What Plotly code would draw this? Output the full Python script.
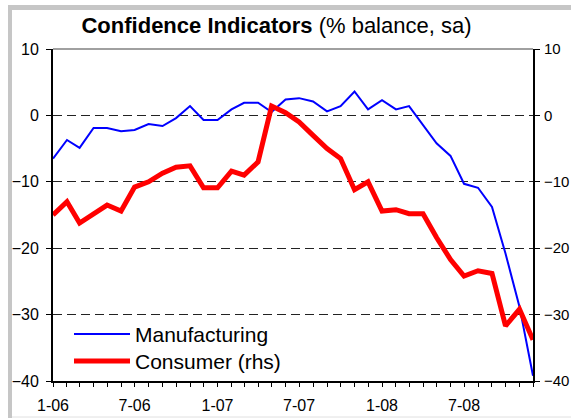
import pandas as pd
import plotly.graph_objects as go

# Monthly survey balances, Jan 2006 - Dec 2008 (% balance, seasonally adjusted)
months = pd.date_range("2006-01-01", periods=36, freq="MS")

manufacturing = [
    -6.5, -3.7, -4.9, -1.9, -1.9, -2.4, -2.2, -1.3, -1.6, -0.4, 1.4, -0.7,
    -0.7, 0.9, 1.9, 1.9, 0.5, 2.4, 2.6, 2.1, 0.6, 1.4, 3.6, 0.9,
    2.3, 0.9, 1.4, -1.5, -4.2, -6.1, -10.3, -10.9, -13.8, -20.8, -28.8, -39.2,
]
consumer = [
    -15.0, -13.0, -16.2, -14.8, -13.5, -14.4, -10.8, -10.0, -8.7, -7.8, -7.6, -10.9,
    -10.9, -8.4, -9.0, -7.0, 1.4, 0.4, -1.0, -3.0, -5.0, -6.5, -11.2, -10.0,
    -14.4, -14.2, -14.8, -14.8, -18.4, -21.7, -24.2, -23.4, -23.8, -31.7, -29.2, -33.8,
]

series_names = ["Manufacturing", "Consumer (rhs)"]
series_colors = ["#0000FF", "#FF0000"]
series_widths = [2, 5]

y_range = [-40, 10]
y_ticks = [10, 0, -10, -20, -30, -40]

title_text = "<b>Confidence Indicators</b> (% balance, sa)"

FONT = "Liberation Sans, Arial, sans-serif"
W, H = 571, 418
L, R, T, B = 53, 38, 49, 37
PW, PH = W - L - R, H - T - B


def px_x(p):
    return (p - L) / PW


def px_y(p):
    return (H - B - p) / PH


fig = go.Figure()
fig.add_trace(go.Scatter(
    x=months, y=manufacturing, name=series_names[0], mode="lines",
    line=dict(color=series_colors[0], width=series_widths[0]),
    yaxis="y", showlegend=False,
))
fig.add_trace(go.Scatter(
    x=months, y=consumer, name=series_names[1], mode="lines",
    line=dict(color=series_colors[1], width=series_widths[1]),
    yaxis="y2", showlegend=False,
))

axis_font = dict(family=FONT, size=16, color="black")
right_font = dict(family=FONT, size=15, color="black")

fig.update_layout(
    width=W, height=H,
    margin=dict(l=L, r=R, t=T, b=B, pad=0, autoexpand=False),
    paper_bgcolor="white", plot_bgcolor="white",
    font=dict(family=FONT, color="black"),
    title=dict(text=title_text, x=276.5 / W, xanchor="center", xref="container",
               y=1 - 25 / H, yanchor="middle", yref="container", automargin=False,
               font=dict(family=FONT, size=22, color="black")),
    xaxis=dict(
        type="date", range=[months[0], months[-1]],
        tick0=months[0], dtick="M6", tickformat="%-m-%y",
        ticks="outside", ticklen=4, tickwidth=1, tickcolor="black",
        minor=dict(dtick="M1", ticks="outside", ticklen=4, tickwidth=1, tickcolor="black", showgrid=False),
        showline=True, linecolor="black", linewidth=2,
        showgrid=False, zeroline=False, tickfont=axis_font,
        ticklabelstandoff=5, automargin=False,
    ),
    yaxis=dict(
        range=y_range, tickvals=y_ticks, ticks="outside", ticklen=5,
        tickcolor="black", tickwidth=1,
        showline=True, linecolor="black", linewidth=2,
        showgrid=True, gridcolor="#222222", gridwidth=1, griddash="9px,5px",
        zeroline=False, tickfont=axis_font, ticklabelstandoff=4, automargin=False,
    ),
    yaxis2=dict(
        range=y_range, tickvals=y_ticks, overlaying="y", side="right",
        ticks="outside", ticklen=5, tickcolor="black", tickwidth=1,
        showline=True, linecolor="black", linewidth=2,
        showgrid=False, zeroline=False, tickfont=right_font, ticklabelstandoff=1,
        automargin=False,
    ),
)

shapes = [
    # top edge of the plot area
    dict(type="line", xref="paper", yref="paper", x0=0, x1=1, y0=1, y1=1,
         line=dict(color="#808080", width=1.5)),
    # chart frame
    dict(type="line", xref="paper", yref="paper", x0=px_x(10), x1=px_x(10),
         y0=px_y(5), y1=px_y(H + 2), line=dict(color="#c6c6c6", width=4)),
    dict(type="line", xref="paper", yref="paper", x0=px_x(8), x1=px_x(W + 2),
         y0=px_y(7.5), y1=px_y(7.5), line=dict(color="#c6c6c6", width=5)),
    dict(type="line", xref="paper", yref="paper", x0=px_x(12), x1=px_x(W + 2),
         y0=px_y(417), y1=px_y(417), line=dict(color="#e0e0e0", width=1)),
]

# legend, drawn as sample lines with labels
legend_rows = [334, 361]
annotations = []
for name, color, width, yy in zip(series_names, series_colors, series_widths, legend_rows):
    shapes.append(dict(type="line", xref="paper", yref="paper",
                       x0=px_x(74), x1=px_x(130), y0=px_y(yy), y1=px_y(yy),
                       line=dict(color=color, width=width)))
    annotations.append(dict(text=name, xref="paper", yref="paper",
                            x=px_x(133), y=px_y(yy), xanchor="left", yanchor="middle",
                            showarrow=False, font=dict(family=FONT, size=21, color="black")))

fig.update_layout(shapes=shapes, annotations=annotations)

fig.write_html("out.html")
